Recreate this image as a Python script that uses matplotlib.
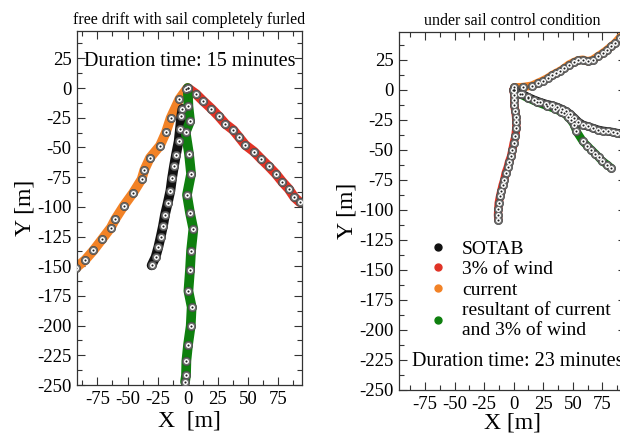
import matplotlib
matplotlib.use("Agg")
import matplotlib.pyplot as plt
from matplotlib.lines import Line2D
from matplotlib.ticker import MultipleLocator

plt.rcParams['font.family'] = ['Liberation Serif', 'DejaVu Serif']
plt.rcParams['axes.unicode_minus'] = False

# colours
C_SOTAB = '#111111'
C_WIND = '#e03326'
C_CURR = '#f28226'
C_RES = '#0e7f0e'

# ---- left panel: free drift with sail completely furled (15 min) ----
L_sotab_x = [-4.4, -5.3, -6.4, -7.5, -9.7, -11.4, -13.0, -14.4, -16.7, -18.9, -20.6, -22.5, -24.4, -26.7, -30.0]
L_sotab_y = [-17.6, -23.2, -34.2, -44.8, -56.0, -65.8, -75.9, -86.6, -97.2, -106.7, -116.5, -125.5, -133.9, -142.3, -149.3]

L_wind_x = [0, 6.9, 12.8, 19.7, 25.8, 31.4, 37.8, 42.8, 47.8, 55.0, 61.0, 67.2, 73.3, 78.6, 83.9, 88.6, 93.0]
L_wind_y = [0, -5.0, -10.9, -17.4, -23.8, -30.3, -35.3, -41.5, -47.9, -53.5, -59.7, -65.8, -72.3, -79.0, -84.9, -91.9, -96.0]

L_curr_x = [-1.0, -6.9, -14.2, -18.1, -23.0, -31.4, -36.1, -38.3, -45.3, -53.0, -60.3, -63.9, -71.1, -78.3, -85.0, -93.0]
L_curr_y = [-1.0, -9.2, -25.2, -37.3, -48.5, -58.8, -69.2, -76.8, -88.2, -99.0, -110.6, -117.6, -127.2, -136.7, -144.5, -151.6]

L_res_x = [0, 0.6, 2.0, -1.7, 1.1, 2.8, -0.6, 1.9, 4.7, 2.8, 1.9, 0.6, 3.3, 2.5, 0.3, -1.1, -1.4, -2.2]
L_res_y = [0, -15.4, -28.0, -37.3, -55.5, -72.3, -89.9, -105.0, -118.8, -137.0, -153.2, -170.9, -184.3, -200.3, -216.0, -229.7, -241.7, -247.3]

# ---- right panel: under sail control condition (23 min) ----
R_sotab_x = [0, 6.8, 11.9, 17.0, 22.3, 27.4, 32.2, 36.7, 40.7, 44.4, 47.8, 51.4, 54.8, 58.5, 62.8, 67.0, 71.2, 75.5, 79.7, 84.0, 87.6, 92.0]
R_sotab_y = [0, -3.3, -6.1, -8.3, -10.3, -11.9, -13.0, -14.4, -16.1, -18.0, -20.3, -23.6, -26.9, -29.2, -30.6, -31.9, -33.3, -34.2, -34.7, -35.3, -36.1, -36.5]

R_wind_x = [-0.3, 0.5, 0.5, 0.5, 1.4, 2.0, 2.2, 2.2, 1.4, 0, -1.1, -2.3, -4.0, -5.1, -6.8, -8.0, -9.3, -10.5, -11.6, -12.7, -13.0, -13.3, -13.0]
R_wind_y = [0, -4.2, -8.9, -13.0, -18.0, -22.8, -27.2, -31.9, -38.9, -44.4, -50.0, -55.6, -60.3, -64.7, -69.4, -75.0, -79.2, -84.2, -88.9, -94.4, -99.2, -104.2, -108.3]

R_curr_x = [0.5, 7.6, 15.3, 20.3, 24.6, 28.8, 32.2, 35.9, 39.5, 42.9, 46.6, 50.6, 54.3, 58.5, 62.8, 67.0, 71.2, 75.5, 79.1, 82.5, 85.9, 89.6, 94.0]
R_curr_y = [1.9, 2.2, 3.3, 5.6, 7.5, 9.7, 11.9, 13.9, 15.8, 18.0, 20.8, 22.8, 24.4, 25.0, 23.6, 25.0, 27.8, 30.6, 33.3, 36.1, 38.9, 43.1, 47.0]

R_res_x = [0, 5.0, 12.0, 20.0, 28.0, 35.0, 40.0, 42.9, 45.8, 48.6, 50.9, 53.1, 58.5, 62.2, 65.6, 69.0, 71.8, 74.6, 79.1, 82.5]
R_res_y = [0, -3.5, -7.0, -10.5, -13.5, -16.0, -18.5, -19.4, -22.8, -25.6, -29.2, -34.7, -43.0, -46.7, -50.0, -53.3, -56.1, -59.2, -62.5, -65.3]

labels = ['SOTAB', '3% of wind', 'current', 'resultant of current\nand 3% of wind']


def track(ax, xs, ys, color, lw, ms):
    ax.plot(xs, ys, color=color, lw=lw, solid_capstyle='round', solid_joinstyle='round', zorder=2)
    # target-like markers
    ax.plot(xs, ys, ls='none', marker='o', ms=ms, mfc='#707070', mec='#4a4a4a', mew=0.5, zorder=3)
    ax.plot(xs, ys, ls='none', marker='o', ms=ms * 0.6, mfc='white', mec='none', zorder=4)
    ax.plot(xs, ys, ls='none', marker='o', ms=ms * 0.25, mfc='#222222', mec='none', zorder=5)


def style_axes(ax, xlim):
    ax.set_xlim(*xlim)
    ax.set_ylim(-250, 48)
    ax.xaxis.set_major_locator(MultipleLocator(25))
    ax.xaxis.set_minor_locator(MultipleLocator(12.5))
    ax.yaxis.set_major_locator(MultipleLocator(25))
    ax.yaxis.set_minor_locator(MultipleLocator(12.5))
    ax.tick_params(which='both', direction='in', top=True, right=True, labelsize=13.5,
                   color='#333333', width=0.8, pad=4)
    ax.tick_params(which='major', length=6)
    ax.tick_params(which='minor', length=3.5)
    for s in ax.spines.values():
        s.set_color('#333333')
        s.set_linewidth(0.9)


fig = plt.figure(figsize=(6.2, 4.34), dpi=100)

ax1 = fig.add_axes([77 / 620, 49 / 434, 225 / 620, 354 / 434])
track(ax1, L_curr_x, L_curr_y, C_CURR, 7, 6)
track(ax1, L_wind_x, L_wind_y, C_WIND, 7, 6)
track(ax1, L_sotab_x, L_sotab_y, C_SOTAB, 7, 6)
track(ax1, L_res_x, L_res_y, C_RES, 7, 6)
style_axes(ax1, (-92, 95))
ax1.set_title('free drift with sail completely furled', fontsize=11.5, pad=5)
ax1.set_xlabel('X  [m]', fontsize=17, labelpad=2)
ax1.set_ylabel('Y [m]', fontsize=17, labelpad=1)
ax1.text(0.5, 0.913, 'Duration time: 15 minutes', transform=ax1.transAxes,
         ha='center', va='center', fontsize=14.5)

ax2 = fig.add_axes([399 / 620, 44 / 434, 227 / 620, 358 / 434])
track(ax2, R_curr_x, R_curr_y, C_CURR, 6, 6)
track(ax2, R_res_x, R_res_y, C_RES, 6, 6)
track(ax2, R_sotab_x, R_sotab_y, C_SOTAB, 6, 6)
track(ax2, R_wind_x, R_wind_y, C_WIND, 6, 6)
style_axes(ax2, (-97, 95))
ax2.set_title('under sail control condition', fontsize=11.5, pad=5)
ax2.set_xlabel('X [m]', fontsize=17, labelpad=0)
ax2.set_ylabel('Y [m]', fontsize=17, labelpad=1)
ax2.text(412 / 620, 1 - 362 / 434, 'Duration time: 23 minutes', transform=fig.transFigure,
         ha='left', va='center', fontsize=14.5, clip_on=False)

handles = [Line2D([], [], ls='none', marker='o', ms=5, mfc=c, mec=c)
           for c in (C_SOTAB, C_WIND, C_CURR, C_RES)]
leg = ax2.legend(handles, labels, loc='upper left', bbox_to_anchor=(426 / 620, 1 - 240 / 434),
                 bbox_transform=fig.transFigure, frameon=False, fontsize=14,
                 handlelength=1.2, handletextpad=0.65, labelspacing=0.15,
                 borderpad=0, borderaxespad=0)
for t in leg.get_texts():
    t.set_linespacing(1.25)

fig.savefig('out.png', dpi=100)
